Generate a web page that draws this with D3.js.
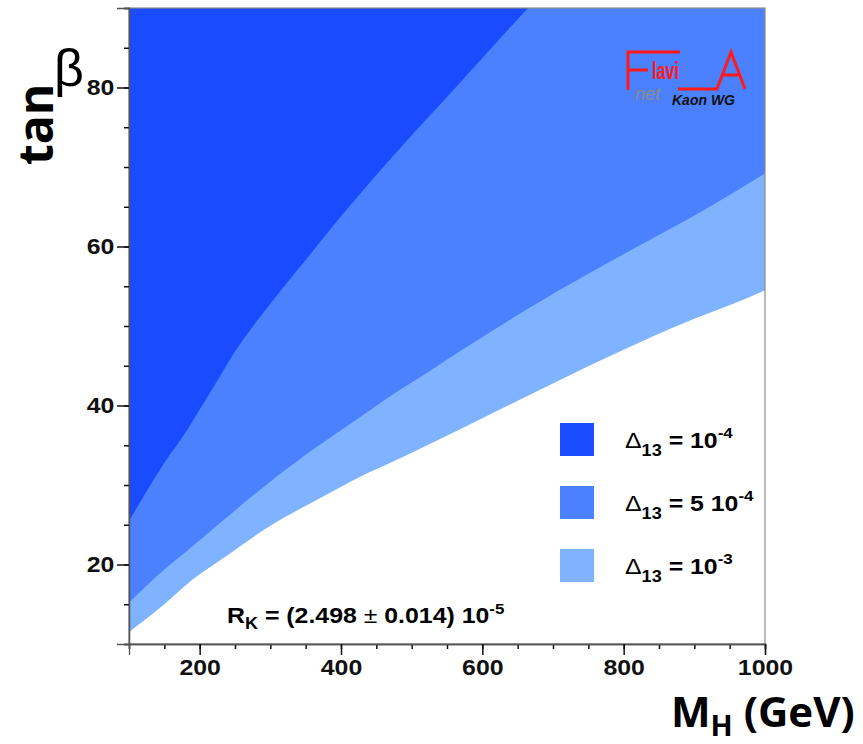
<!DOCTYPE html>
<html>
<head>
<meta charset="utf-8">
<script src="https://cdn.jsdelivr.net/npm/d3@7"></script>
<style>
  body { margin: 0; background: #fff; }
  svg { display: block; }
  .tick text { font-family: "Liberation Sans", Arial, sans-serif; font-weight: bold; }
</style>
</head>
<body>
<svg id="chart" width="863" height="744"></svg>
<script>
// exclusion contours: tan(beta) vs M_H (GeV)
const massDelta1 = [100, 125, 150, 180, 200, 220, 250, 300, 350, 400, 450, 500, 550, 600, 650, 665];
const tanbDelta1 = [25.5, 29.2, 32.8, 36.6, 39.5, 42.4, 46.8, 52.8, 58.3, 63.8, 69.0, 74.0, 78.8, 83.7, 88.6, 90];

const massDelta5 = [100, 140, 190, 230, 280, 350, 420, 460, 530, 575, 680, 785, 920, 1000];
const tanbDelta5 = [15.2, 18.6, 22.3, 25.3, 29.0, 33.8, 38.1, 40.6, 44.6, 47.2, 53.0, 58.3, 64.9, 69.2];

const massDelta10 = [100, 150, 190, 240, 290, 380, 440, 460, 600, 650, 780, 900, 955, 1000];
const tanbDelta10 = [11.5, 15.0, 18.1, 21.2, 24.3, 28.8, 31.6, 32.4, 38.4, 40.6, 46.2, 50.9, 52.8, 54.5];

const legendLabels = [['10', '-4'], ['5 10', '-4'], ['10', '-3']];
const regionColors = ['#1a4bff', '#4b80ff', '#80b3ff'];

const xMajor = [200, 400, 600, 800, 1000];
const yMajor = [20, 40, 60, 80];

const svg = d3.select('#chart');

const frame = {left: 129, right: 765, top: 8, bottom: 644};
const stretch = 1.13; // the original plot is a bit wider than tall

const x = d3.scaleLinear().domain([100, 1000]).range([frame.left, frame.right]);
const y = d3.scaleLinear().domain([10, 90]).range([frame.bottom, frame.top]);

svg.append('defs').append('clipPath')
    .attr('id', 'plot-clip')
    .append('rect')
    .attr('x', frame.left).attr('y', frame.top)
    .attr('width', frame.right - frame.left).attr('height', frame.bottom - frame.top);

const plot = svg.append('g').attr('clip-path', 'url(#plot-clip)');

// each band is filled from its contour up to the top of the frame
const bands = [
    {m: massDelta10, t: tanbDelta10, color: regionColors[2]},
    {m: massDelta5, t: tanbDelta5, color: regionColors[1]},
    {m: massDelta1, t: tanbDelta1, color: regionColors[0]}
];

const area = d3.area()
    .curve(d3.curveMonotoneX)
    .x(d => x(d[0]))
    .y0(d => y(d[1]))
    .y1(() => y(90));

bands.forEach(b => {
    const pts = b.m.map((m, i) => [m, b.t[i]]);
    plot.append('path')
        .datum(pts)
        .attr('d', area)
        .attr('fill', b.color);
});

// frame
svg.append('rect')
    .attr('x', frame.left).attr('y', frame.top)
    .attr('width', frame.right - frame.left).attr('height', frame.bottom - frame.top)
    .attr('fill', 'none')
    .attr('stroke', '#8a8a8a')
    .attr('stroke-width', 1.2);

// axes: minor ticks every 50 / 5, major labelled
const xMinorAxis = d3.axisBottom(x).tickValues(x.ticks(18)).tickSize(5).tickFormat('');
const xMajorAxis = d3.axisBottom(x).tickValues(xMajor).tickSize(11).tickPadding(4).tickFormat(d3.format('d'));
const yMinorAxis = d3.axisLeft(y).tickValues(y.ticks(16)).tickSize(5).tickFormat('');
const yMajorAxis = d3.axisLeft(y).tickValues(yMajor).tickSize(12).tickPadding(1);

[xMinorAxis, xMajorAxis].forEach(ax => {
    svg.append('g').attr('transform', 'translate(0,' + frame.bottom + ')').call(ax);
});
[yMinorAxis, yMajorAxis].forEach(ax => {
    svg.append('g').attr('transform', 'translate(' + frame.left + ',0)').call(ax);
});

svg.selectAll('.domain').attr('stroke', '#555').attr('stroke-width', 1.3);
svg.selectAll('.tick line').attr('stroke', '#111').attr('stroke-width', 1.5);
svg.selectAll('.tick text')
    .attr('fill', '#111')
    .attr('transform', 'scale(' + stretch + ',1)')
    .style('font-size', '22px');

// axis titles
svg.append('text')
    .attr('transform', 'translate(53,165) rotate(-90)')
    .attr('font-family', '"Open Sans", sans-serif')
    .attr('font-weight', 'bold')
    .attr('font-size', 48)
    .text('tan');
svg.append('text')
    .attr('x', 54).attr('y', 86)
    .attr('font-family', '"Liberation Sans", Arial, sans-serif')
    .attr('font-size', 52)
    .text('β');

const xTitle = svg.append('text')
    .attr('x', 671).attr('y', 727)
    .attr('font-family', '"Open Sans", sans-serif')
    .attr('font-weight', 'bold')
    .attr('font-size', 42);
xTitle.append('tspan').text('M');
xTitle.append('tspan').attr('font-size', 29).attr('dy', 9).text('H');
xTitle.append('tspan').attr('dy', -9).text(' (GeV)');

// legend
const legend = svg.append('g');
legendLabels.forEach((lab, i) => {
    const ly = 423 + i * 63;
    legend.append('rect')
        .attr('x', 560).attr('y', ly)
        .attr('width', 34).attr('height', 33)
        .attr('fill', regionColors[i]);
    const t = legend.append('text')
        .attr('transform', 'translate(625,' + (ly + 25) + ') scale(' + stretch + ',1)')
        .attr('font-family', '"Liberation Sans", Arial, sans-serif')
        .attr('font-weight', 'bold')
        .attr('font-size', 22);
    t.append('tspan').attr('font-weight', 'normal').text('Δ');
    t.append('tspan').attr('font-size', 16).attr('dy', 8).text('13');
    t.append('tspan').attr('dy', -8).text(' = ' + lab[0]);
    t.append('tspan').attr('font-size', 15).attr('dy', -10).text(lab[1]);
});

// result annotation
const rk = svg.append('text')
    .attr('transform', 'translate(227,623) scale(' + stretch + ',1)')
    .attr('font-family', '"Liberation Sans", Arial, sans-serif')
    .attr('font-weight', 'bold')
    .attr('font-size', 22);
rk.append('tspan').text('R');
rk.append('tspan').attr('font-size', 16).attr('dy', 6).text('K');
rk.append('tspan').attr('dy', -6).text(' = (2.498 ');
rk.append('tspan').attr('font-weight', 'normal').text('±');
rk.append('tspan').text(' 0.014) 10');
rk.append('tspan').attr('font-size', 15).attr('dy', -9).text('-5');

// FlaviAnet Kaon WG logo
const logo = svg.append('g')
    .attr('fill', 'none')
    .attr('stroke', '#ff1a1a')
    .attr('stroke-width', 3);
logo.append('path').attr('d', 'M628,90 V52 H680 M628,70 H648');
logo.append('path').attr('d', 'M678,89 H717 L731,52 L745,89 M722,75 H740');
svg.append('text')
    .attr('x', 652).attr('y', 79)
    .attr('font-family', '"Liberation Sans", Arial, sans-serif')
    .attr('font-weight', 'bold')
    .attr('font-size', 23)
    .attr('fill', '#ff1a1a')
    .attr('textLength', 27)
    .attr('lengthAdjust', 'spacingAndGlyphs')
    .text('lavi');
svg.append('text')
    .attr('x', 635).attr('y', 100)
    .attr('font-family', '"Liberation Sans", Arial, sans-serif')
    .attr('font-style', 'italic')
    .attr('font-size', 18)
    .attr('fill', '#8c8c8c')
    .text('net');
svg.append('text')
    .attr('x', 672).attr('y', 105)
    .attr('font-family', '"Liberation Sans", Arial, sans-serif')
    .attr('font-style', 'italic')
    .attr('font-weight', 'bold')
    .attr('font-size', 14)
    .attr('fill', '#111')
    .text('Kaon WG');
</script>
</body>
</html>
